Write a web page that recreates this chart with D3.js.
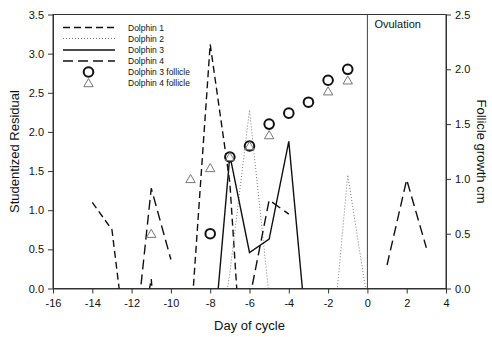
<!DOCTYPE html>
<html>
<head>
<meta charset="utf-8">
<style>
  body { margin: 0; background: #fff; }
  text { font-family: "Liberation Sans", Arial, sans-serif; fill: #111; }
</style>
</head>
<body>
<script src="https://d3js.org/d3.v7.min.js"></script>
<script>

// studentized residuals per dolphin (null = no value that day)
var days = [-14, -13, -12, -11, -10, -9, -8, -7, -6, -5, -4, -3, -2, -1, 0, 1, 2, 3];
var dolphin1 = [1.1, 0.75, -1.3, 0.12, -3, -0.5, 3.12, 1.35, -2.5, null, null, null, null, null, null, null, null, null];
var dolphin2 = [null, null, null, null, null, null, -1.5, 0.2, 2.28, -0.1, -0.8, -1.0, -1.29, 1.45, -0.15, null, null, null];
var dolphin3 = [null, null, null, null, null, null, -1.18, 1.70, 0.46, 0.63, 1.88, -0.84, null, null, null, null, null, null];
var dolphin4 = [null, null, -1.09, 1.28, 0.37, null, null, null, -0.14, 1.13, 0.95, null, null, null, null, 0.30, 1.39, 0.52];

// follicle growth (cm), right axis
var follicle3Days = [-8, -7, -6, -5, -4, -3, -2, -1];
var follicle3 = [0.5, 1.2, 1.3, 1.5, 1.6, 1.7, 1.9, 2.0];
var follicle4Days = [-11, -9, -8, -7, -6, -5, -2, -1];
var follicle4 = [0.5, 1.0, 1.1, 1.2, 1.3, 1.4, 1.8, 1.9];

var xTicks = [-16, -14, -12, -10, -8, -6, -4, -2, 0, 2, 4];
var yTicks = [0, 0.5, 1, 1.5, 2, 2.5, 3, 3.5];
var y2Ticks = [0, 0.5, 1, 1.5, 2, 2.5];

var width = 492, height = 337;
var plotLeft = 53, plotRight = 446, plotTop = 14.5, plotBottom = 288.5;

var svg = d3.select("body").append("svg")
    .attr("width", width)
    .attr("height", height);

var x = d3.scaleLinear().domain([-16, 4]).range([plotLeft, plotRight]);
var y = d3.scaleLinear().domain([0, 3.5]).range([plotBottom, plotTop]);
var y2 = d3.scaleLinear().domain([0, 2.5]).range([plotBottom, plotTop]);

svg.append("defs").append("clipPath")
    .attr("id", "clip")
  .append("rect")
    .attr("x", plotLeft).attr("y", plotTop)
    .attr("width", plotRight - plotLeft).attr("height", plotBottom - plotTop);

// frame
svg.append("rect")
    .attr("x", plotLeft).attr("y", plotTop)
    .attr("width", plotRight - plotLeft).attr("height", plotBottom - plotTop)
    .attr("fill", "none").attr("stroke", "#333").attr("stroke-width", 1);

// ovulation line
svg.append("line")
    .attr("x1", x(0)).attr("x2", x(0))
    .attr("y1", plotTop).attr("y2", plotBottom)
    .attr("stroke", "#444").attr("stroke-width", 1);
svg.append("text")
    .attr("x", x(0) + 7).attr("y", plotTop + 13)
    .style("font-size", "11px")
    .text("Ovulation");

// axes
function styleAxis(g) {
    g.select(".domain").attr("stroke", "#333");
    g.selectAll(".tick line").attr("stroke", "#333");
    g.selectAll(".tick text").style("font-size", "11px").attr("fill", "#111")
        .style("font-family", "'Liberation Sans', Arial, sans-serif");
}
var hyphen = function(d) { return String(d); };
var oneDec = function(d) { return d.toFixed(1); };

svg.append("g")
    .attr("transform", "translate(0," + plotBottom + ")")
    .call(d3.axisBottom(x).tickValues(xTicks).tickFormat(hyphen).tickSize(5).tickSizeOuter(0).tickPadding(6))
    .call(styleAxis);

svg.append("g")
    .attr("transform", "translate(" + plotLeft + ",0)")
    .call(d3.axisLeft(y).tickValues(yTicks).tickFormat(oneDec).tickSize(5).tickSizeOuter(0).tickPadding(4))
    .call(styleAxis);

svg.append("g")
    .attr("transform", "translate(" + plotRight + ",0)")
    .call(d3.axisRight(y2).tickValues(y2Ticks).tickFormat(oneDec).tickSize(5).tickSizeOuter(0).tickPadding(4))
    .call(styleAxis);

// axis titles
svg.append("text")
    .attr("transform", "translate(19," + ((plotTop + plotBottom) / 2) + ") rotate(-90)")
    .attr("text-anchor", "middle")
    .style("font-size", "13px")
    .text("Studentized Residual");

svg.append("text")
    .attr("transform", "translate(477," + ((plotTop + plotBottom) / 2) + ") rotate(90)")
    .attr("text-anchor", "middle")
    .style("font-size", "13px")
    .text("Follicle growth cm");

svg.append("text")
    .attr("x", (plotLeft + plotRight) / 2).attr("y", 330)
    .attr("text-anchor", "middle")
    .style("font-size", "13px")
    .text("Day of cycle");

// series lines
var series = [
    { name: "Dolphin 1", values: dolphin1, dash: "7,4" },
    { name: "Dolphin 2", values: dolphin2, dash: "1,2" },
    { name: "Dolphin 3", values: dolphin3, dash: null },
    { name: "Dolphin 4", values: dolphin4, dash: "10,5" }
];

var line = d3.line()
    .defined(function(d) { return d[1] !== null; })
    .x(function(d) { return x(d[0]); })
    .y(function(d) { return y(d[1]); });

var plot = svg.append("g").attr("clip-path", "url(#clip)");

series.forEach(function(s) {
    var pts = days.map(function(d, i) { return [d, s.values[i]]; });
    plot.append("path")
        .datum(pts)
        .attr("d", line)
        .attr("fill", "none")
        .attr("stroke", s.dash === "1,2" ? "#777" : "#111")
        .attr("stroke-width", s.dash === "1,2" ? 1 : 1.4)
        .attr("stroke-dasharray", s.dash);
});

// follicle markers
var tri = d3.symbol().type(d3.symbolTriangle).size(38);

svg.append("g").selectAll("circle")
    .data(follicle3Days)
    .enter().append("circle")
    .attr("cx", function(d) { return x(d); })
    .attr("cy", function(d, i) { return y2(follicle3[i]); })
    .attr("r", 4.8)
    .attr("fill", "#fff")
    .attr("stroke", "#111")
    .attr("stroke-width", 2);

svg.append("g").selectAll("path")
    .data(follicle4Days)
    .enter().append("path")
    .attr("d", tri)
    .attr("transform", function(d, i) { return "translate(" + x(d) + "," + (y2(follicle4[i]) + 1) + ")"; })
    .attr("fill", "none")
    .attr("stroke", "#777")
    .attr("stroke-width", 1);

// legend
var legend = svg.append("g");
var rows = [27.5, 38.5, 50, 61, 72, 83];
series.forEach(function(s, i) {
    legend.append("line")
        .attr("x1", 63).attr("x2", 115)
        .attr("y1", rows[i]).attr("y2", rows[i])
        .attr("stroke", s.dash === "1,2" ? "#777" : "#111")
        .attr("stroke-width", s.dash === "1,2" ? 1 : 1.4)
        .attr("stroke-dasharray", s.dash);
    legend.append("text")
        .attr("x", 128).attr("y", rows[i] + 3)
        .style("font-size", "8.5px")
        .text(s.name);
});
legend.append("circle")
    .attr("cx", 88.5).attr("cy", rows[4])
    .attr("r", 4.8)
    .attr("fill", "#fff").attr("stroke", "#111").attr("stroke-width", 2);
legend.append("text")
    .attr("x", 128).attr("y", rows[4] + 3)
    .style("font-size", "8.5px")
    .text("Dolphin 3 follicle");
legend.append("path")
    .attr("d", tri)
    .attr("transform", "translate(88.5," + (rows[5] + 1) + ")")
    .attr("fill", "none").attr("stroke", "#777").attr("stroke-width", 1);
legend.append("text")
    .attr("x", 128).attr("y", rows[5] + 3)
    .style("font-size", "8.5px")
    .text("Dolphin 4 follicle");

</script>
</body>
</html>
